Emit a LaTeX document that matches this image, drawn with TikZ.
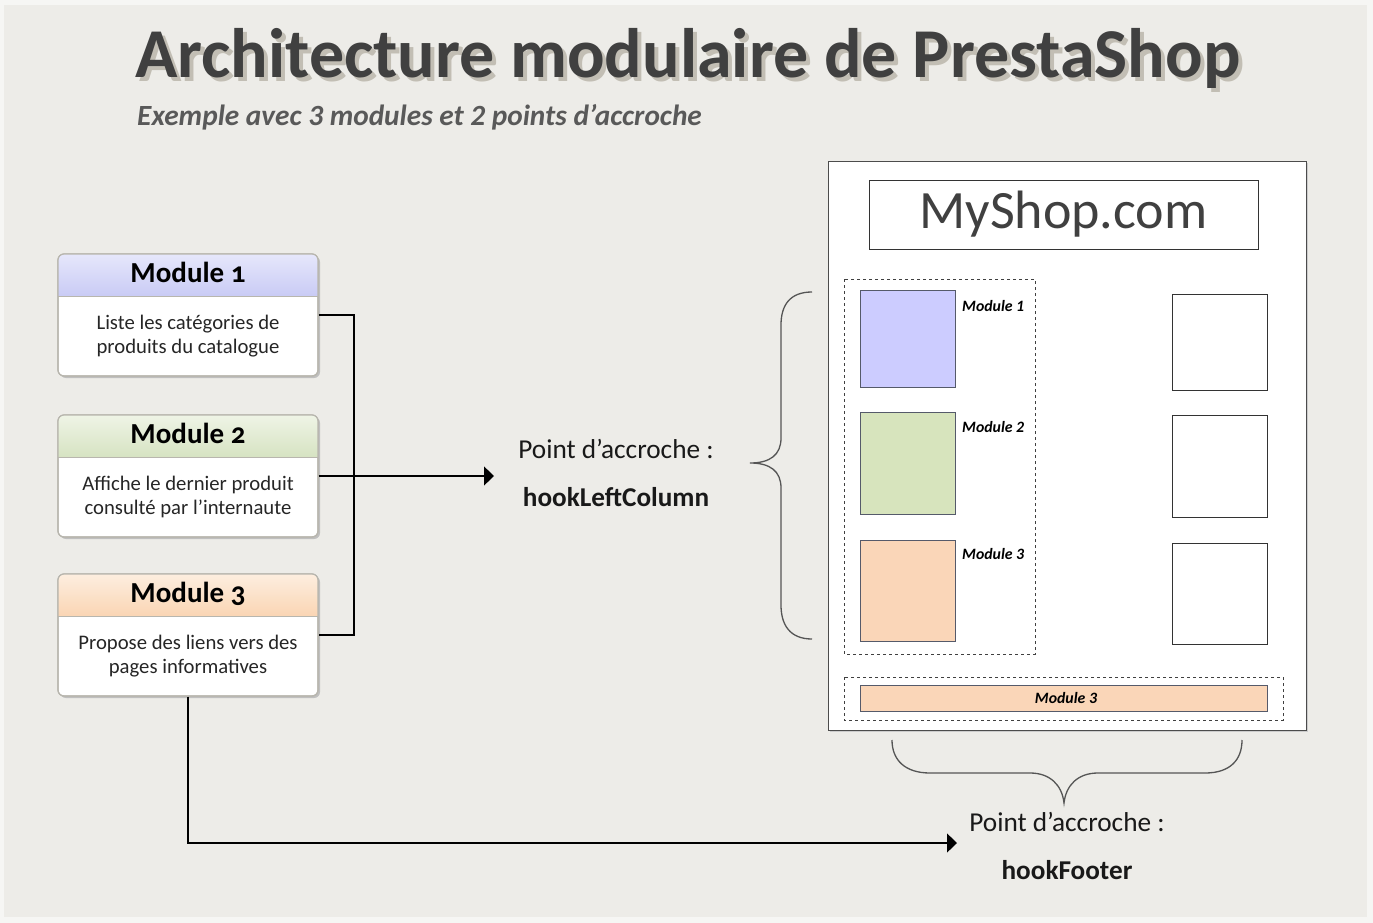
\documentclass[tikz,border=0pt]{standalone}
\usepackage{fontspec}
\setmainfont{Carlito}
\newfontfamily\oldnum{Carlito}[Numbers=OldStyle]
\usetikzlibrary{arrows.meta}
\definecolor{bgc}{HTML}{EDECE8}
\definecolor{titlec}{HTML}{404040}
\definecolor{shadc}{HTML}{C2BEB4}
\definecolor{subc}{HTML}{595959}
\definecolor{blueA}{HTML}{E6E7FB}
\definecolor{blueB}{HTML}{C9CBF5}
\definecolor{greenA}{HTML}{EFF4E6}
\definecolor{greenB}{HTML}{D6E3C2}
\definecolor{peachA}{HTML}{FDEEDF}
\definecolor{peachB}{HTML}{FAD5B4}
\definecolor{sqblue}{HTML}{CCCCFF}
\definecolor{sqgreen}{HTML}{D7E4BD}
\definecolor{sqpeach}{HTML}{FAD6B8}
\definecolor{sqborder}{HTML}{555A6A}
\definecolor{boxborder}{HTML}{B8B6AE}
\definecolor{bracec}{HTML}{555555}
\tikzset{
  modbox/.style={draw=boxborder, line width=1.2pt, rounded corners=6pt, minimum width=260pt, minimum height=122pt, inner sep=0pt},
  modhead/.style={font=\oldnum\bfseries\fontsize{29}{32}\selectfont, text=black, inner sep=0pt},
  modbody/.style={font=\fontsize{20.7}{24.5}\selectfont, text=black!85, align=center, inner sep=0pt},
  conn/.style={draw=black, line width=1.1pt},
  arr/.style={conn, -{Triangle[length=10pt,width=19pt]}},
  hooklbl/.style={font=\fontsize{27.3}{30}\selectfont, text=black!90, inner sep=0pt},
  hookname/.style={font=\bfseries\fontsize{27.2}{30}\selectfont, text=black!90, inner sep=0pt},
  square/.style={draw=sqborder, line width=1pt, inner sep=0pt},
  emptybox/.style={draw=black!80, line width=1pt, fill=white, minimum width=95pt, minimum height=96pt, inner sep=0pt},
  smalllbl/.style={font=\bfseries\itshape\fontsize{15.8}{17}\selectfont, text=black, inner sep=0pt},
  dashbox/.style={draw=black!75, dashed, line width=0.9pt},
  brace/.style={draw=bracec, line width=1.3pt},
}
\newcommand{\titletext}{Architecture modulaire de PrestaShop}
\begin{document}
\begin{tikzpicture}[x=1pt,y=-1pt]
\useasboundingbox (0,0) rectangle (1373,923);
\fill[white!50!bgc] (0,0) rectangle (1373,923);
\fill[bgc] (4,5) rectangle (1367,917);
% Title with shadow in one node
\node[anchor=base west, inner sep=0pt, font=\bfseries\fontsize{70}{74}\selectfont] (title) at (135,78)
  {\makebox[0pt][l]{\hspace{4pt}\raisebox{-4pt}{\textcolor{shadc}{\titletext}}}\textcolor{titlec}{\titletext}};
\node[anchor=base west, inner sep=0pt, text=subc, font=\bfseries\itshape\fontsize{29.3}{32}\selectfont] (sub) at (137,126) {Exemple avec 3 modules et 2 points d’accroche};

% Modules
\foreach \n/\y/\ca/\cb/\la/\lb in {1/315/blueA/blueB/{Liste les catégories de}/{produits du catalogue},
                                    2/476/greenA/greenB/{Affiche le dernier produit}/{consulté par l’internaute},
                                    3/635/peachA/peachB/{Propose des liens vers des}/{pages informatives}}{
  \fill[black!25, rounded corners=6pt] (60,\y-59) rectangle (320,\y+63);
  \node[modbox, fill=white] (m\n) at (188,\y) {};
  \begin{scope}
    \clip[rounded corners=6pt] (58,\y-61) rectangle (318,\y+61);
    \shade[top color=\ca, bottom color=\cb] (58,\y-61) rectangle (318,\y-19);
  \end{scope}
  \draw[boxborder, line width=1pt] (58,\y-19) -- (318,\y-19);
  \draw[boxborder, line width=1.2pt, rounded corners=6pt] (58,\y-61) rectangle (318,\y+61);
  \node[modhead, anchor=base] (h\n) at (188,\y-33) {Module \n};
  \node[modbody] (b\n) at (188,\y+21) {\la\\\lb};
}

% Left hook label
\node[hooklbl, anchor=base] (p1) at (616,458) {Point d’accroche :};
\node[hookname, anchor=base] (k1) at (616,506) {hookLeftColumn};
\coordinate (a1) at (494,476);
\coordinate (j1) at (354,315);
\coordinate (j3) at (354,635);
\draw[conn] (m1.east) -- (j1) -- (j3) -- (m3.east);
\draw[arr] (m2.east) -- (a1);

% Left brace
\draw[brace] (812,292) .. controls (790,292) and (781,305) .. (781,325)
  -- (781,438) .. controls (781,455) and (770,463) .. (750,463)
  .. controls (770,463) and (781,471) .. (781,488)
  -- (781,605) .. controls (781,625) and (790,639) .. (812,639);

% Browser window
\fill[black!20] (830,163) rectangle (1308,732);
\node[draw=black!70, line width=1pt, fill=white, minimum width=478pt, minimum height=569pt, inner sep=0pt] (win) at (1067,445.5) {};
\node[draw=black!80, line width=1pt, fill=white, minimum width=389pt, minimum height=69pt, inner sep=0pt, text=titlec, font=\fontsize{54}{58}\selectfont] (url) at (1063.5,214.5) {MyShop.com};

\draw[dashbox] (844,279) rectangle (1035,654);
\node[square, fill=sqblue, minimum width=95pt, minimum height=97pt] (s1) at (907.5,338.5) {};
\node[square, fill=sqgreen, minimum width=95pt, minimum height=102pt] (s2) at (907.5,463) {};
\node[square, fill=sqpeach, minimum width=95pt, minimum height=101pt] (s3) at (907.5,590.5) {};
\node[smalllbl, anchor=base west] (l1) at (962,311) {Module 1};
\node[smalllbl, anchor=base west] (l2) at (962,432) {Module 2};
\node[smalllbl, anchor=base west] (l3) at (962,559) {Module 3};

\node[emptybox] (r1) at (1219.5,342) {};
\node[emptybox, minimum height=102pt] (r2) at (1219.5,466) {};
\node[emptybox, minimum height=101pt] (r3) at (1219.5,593.5) {};

\draw[dashbox] (844,677) rectangle (1283,720);
\node[square, fill=sqpeach, minimum width=407pt, minimum height=26pt] (bar) at (1063.5,698) {};
\node[smalllbl] (l4) at (1066,698) {Module 3};

% Bottom brace
\draw[brace] (892,740) .. controls (892,760) and (905,773) .. (930,773)
  -- (1030,773) .. controls (1050,773) and (1062,785) .. (1064,803)
  .. controls (1066,785) and (1078,773) .. (1098,773)
  -- (1205,773) .. controls (1230,773) and (1242,760) .. (1242,740);

% Footer hook
\node[hooklbl, anchor=base] (p2) at (1067,831) {Point d’accroche :};
\node[hookname, anchor=base] (k2) at (1067,879) {hookFooter};
\coordinate (a2) at (957,843);
\coordinate (j4) at (188,843);
\draw[arr] (m3.south) -- (j4) -- (a2);
\end{tikzpicture}
\end{document}
